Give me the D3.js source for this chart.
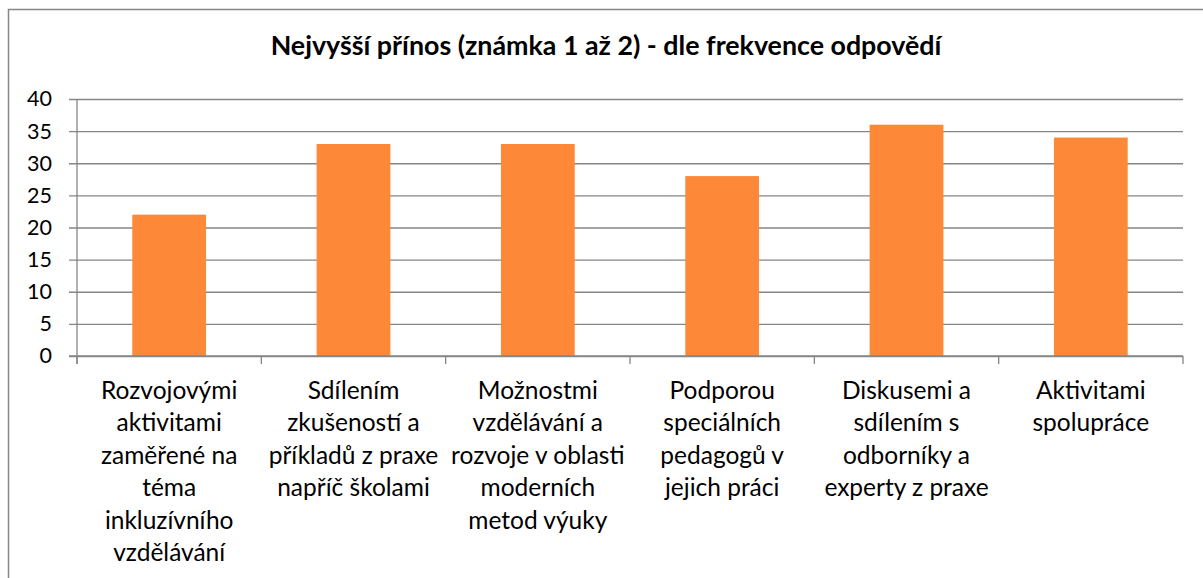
<!DOCTYPE html>
<html>
<head>
<meta charset="utf-8">
<script src="https://cdn.jsdelivr.net/npm/d3@7"></script>
<style>
  html, body { margin: 0; padding: 0; background: #fff; }
  svg { display: block; font-family: Lato, "Open Sans", sans-serif; }
</style>
</head>
<body>
<svg id="chart" width="1203" height="578"></svg>
<script>
// data
const title = 'Nejvyšší přínos (známka 1 až 2) - dle frekvence odpovědí';
const categories = [
  ['Rozvojovými', 'aktivitami', 'zaměřené na', 'téma', 'inkluzívního', 'vzdělávání'],
  ['Sdílením', 'zkušeností a', 'příkladů z praxe', 'napříč školami'],
  ['Možnostmi', 'vzdělávání a', 'rozvoje v oblasti', 'moderních', 'metod výuky'],
  ['Podporou', 'speciálních', 'pedagogů v', 'jejich práci'],
  ['Diskusemi a', 'sdílením s', 'odborníky a', 'experty z praxe'],
  ['Aktivitami', 'spolupráce']
];
const values = [22, 33, 33, 28, 36, 34];
const yTicks = [0, 5, 10, 15, 20, 25, 30, 35, 40];

const W = 1203, H = 578;
const svg = d3.select('#chart');
const grey = '#868686';

// chart frame (runs off the right and bottom edge like the original)
svg.append('rect')
  .attr('x', 8.5).attr('y', 9.5)
  .attr('width', W).attr('height', H)
  .attr('fill', 'none')
  .attr('stroke', grey)
  .attr('stroke-width', 1.5);

svg.append('text')
  .attr('x', 606).attr('y', 55)
  .attr('text-anchor', 'middle')
  .attr('font-weight', 'bold')
  .attr('font-size', 26.8)
  .attr('fill', '#000')
  .text(title);

const pLeft = 77, pRight = 1183, pTop = 99, pBottom = 356;

const x = d3.scaleBand()
  .domain(d3.range(categories.length))
  .range([pLeft, pRight])
  .paddingInner(0.6)
  .paddingOuter(0.3);

const y = d3.scaleLinear().domain([0, 40]).range([pBottom, pTop]);

// gridlines + y ticks
const yAxis = d3.axisLeft(y)
  .tickValues(yTicks)
  .tickSize(-(pRight - pLeft))
  .tickPadding(17)
  .tickSizeOuter(0);

const gy = svg.append('g')
  .attr('transform', `translate(${pLeft},0)`)
  .call(yAxis);
gy.select('.domain').remove();
gy.selectAll('.tick line')
  .attr('x1', -8)
  .attr('stroke', grey)
  .attr('stroke-width', 1.3);
gy.selectAll('.tick text')
  .attr('font-size', 21.5)
  .attr('font-family', 'Lato, "Open Sans", sans-serif')
  .attr('fill', '#000')
  .attr('x', -25);

// bars
svg.append('g').selectAll('rect')
  .data(values)
  .join('rect')
  .attr('x', (d, i) => x(i))
  .attr('y', d => y(d))
  .attr('width', x.bandwidth())
  .attr('height', d => y(0) - y(d))
  .attr('fill', '#fd8838');

// value axis line + category axis
svg.append('line')
  .attr('x1', pLeft).attr('x2', pLeft)
  .attr('y1', pTop).attr('y2', pBottom + 8)
  .attr('stroke', grey).attr('stroke-width', 1.3);

svg.append('line')
  .attr('x1', pLeft - 8).attr('x2', pRight)
  .attr('y1', pBottom).attr('y2', pBottom)
  .attr('stroke', grey).attr('stroke-width', 1.3);

const step = x.step();
svg.append('g').selectAll('line')
  .data(d3.range(categories.length + 1))
  .join('line')
  .attr('x1', i => pLeft + i * step)
  .attr('x2', i => pLeft + i * step)
  .attr('y1', pBottom).attr('y2', pBottom + 8)
  .attr('stroke', grey).attr('stroke-width', 1.3);

// category labels
const lab = svg.append('g').selectAll('text')
  .data(categories)
  .join('text')
  .attr('text-anchor', 'middle')
  .attr('font-size', 24.5)
  .attr('fill', '#000');

lab.each(function(lines, i) {
  const cx = x(i) + x.bandwidth() / 2;
  d3.select(this).selectAll('tspan')
    .data(lines)
    .join('tspan')
    .attr('x', cx)
    .attr('y', (d, j) => 399 + j * 32.4)
    .text(d => d);
});
</script>
</body>
</html>
